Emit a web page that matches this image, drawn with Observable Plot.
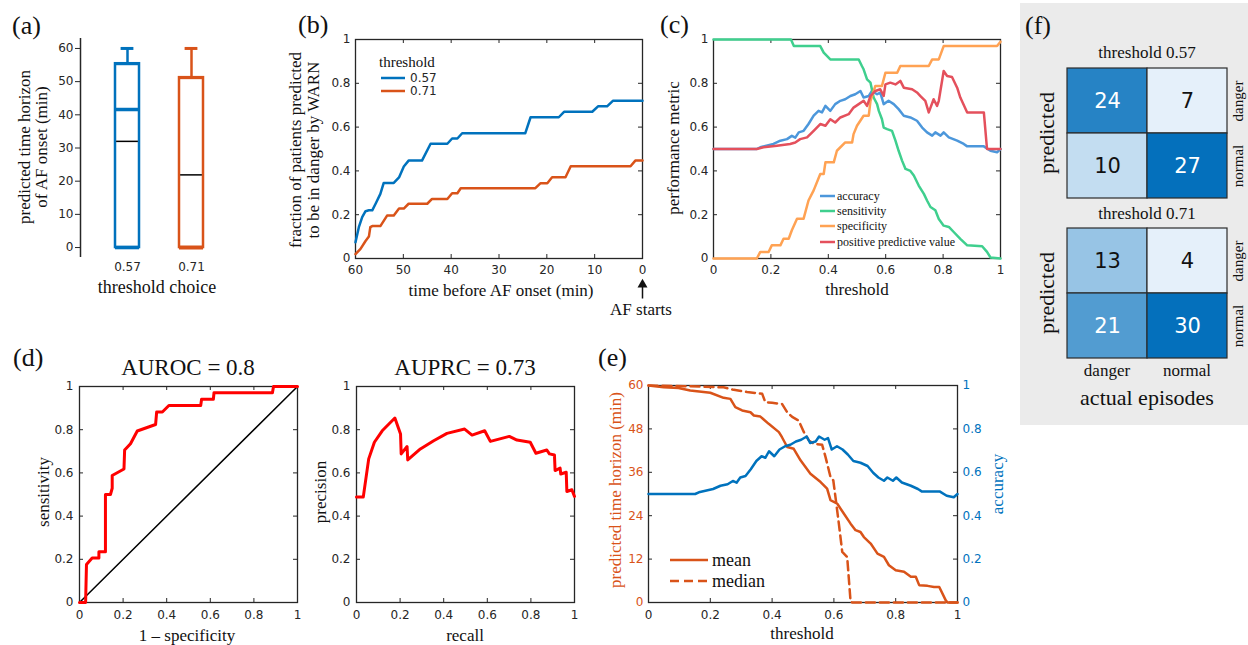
<!DOCTYPE html>
<html><head><meta charset="utf-8">
<script src="https://cdn.jsdelivr.net/npm/d3@7"></script>
<script src="https://cdn.jsdelivr.net/npm/@observablehq/plot@0.6"></script>
<style>
body{margin:0;background:#fff;}
#fig{position:relative;width:1248px;height:645px;overflow:hidden;background:#fff;}
.lbl{position:absolute;white-space:nowrap;line-height:1;color:#111;text-align:center;}
</style></head><body><div id="fig"></div>
<script>
// ---------------- DATA ----------------
// (a) box plot of predicted time horizon (min)
const thresholdChoices = ["0.57", "0.71"];
const boxQ1 = [0, 0];
const boxQ3 = [55.4, 51.2];
const boxMedian = [41.6, 0];
const boxMean = [32, 21.9];
const whiskerHi = [60, 60];
const whiskerLo = [0, 0];

// (b) fraction predicted in danger vs minutes before AF onset [min, fraction]
const frac057 = [[60,0.074],[59.3,0.143],[58.6,0.189],[57.9,0.216],[57.2,0.22],[56.5,0.22],[55.8,0.25],[54.8,0.295],[54.1,0.345],[52,0.345],[50.9,0.37],[49.9,0.42],[48.9,0.447],[46.1,0.447],[44.3,0.524],[40.8,0.524],[39.8,0.548],[38.7,0.548],[37.7,0.572],[24.5,0.572],[23.4,0.645],[17.5,0.645],[16.4,0.67],[10.5,0.67],[9.3,0.695],[7.4,0.695],[6.2,0.72],[0,0.72]];
const frac071 = [[60,0.02],[58.95,0.044],[57.9,0.08],[57.2,0.1],[56.9,0.143],[56.5,0.148],[54.8,0.148],[53.4,0.196],[52,0.196],[50.9,0.228],[49.9,0.228],[48.9,0.25],[45,0.25],[44,0.272],[40.8,0.272],[39.8,0.298],[38.7,0.298],[38,0.321],[22.4,0.321],[21.3,0.344],[19.9,0.344],[18.9,0.371],[16.1,0.371],[15,0.421],[2.5,0.421],[1.5,0.447],[0,0.447]];

// (c) performance metrics vs threshold [threshold, value]
const accuracyCurve = [[0,0.5],[0.151,0.5],[0.163,0.508],[0.209,0.523],[0.233,0.538],[0.256,0.545],[0.273,0.56],[0.285,0.552],[0.297,0.576],[0.314,0.583],[0.331,0.614],[0.349,0.652],[0.366,0.674],[0.378,0.667],[0.39,0.697],[0.407,0.674],[0.424,0.705],[0.442,0.72],[0.459,0.727],[0.477,0.742],[0.494,0.75],[0.512,0.765],[0.523,0.735],[0.541,0.742],[0.552,0.765],[0.57,0.75],[0.581,0.758],[0.593,0.705],[0.61,0.72],[0.628,0.705],[0.645,0.682],[0.663,0.652],[0.686,0.644],[0.709,0.629],[0.727,0.598],[0.744,0.576],[0.762,0.561],[0.773,0.576],[0.791,0.561],[0.802,0.576],[0.82,0.553],[0.849,0.538],[0.872,0.523],[0.884,0.512],[0.942,0.512],[0.965,0.492],[0.988,0.485],[1,0.5]];
const sensitivityCurve = [[0,1],[0.27,1],[0.28,0.97],[0.372,0.97],[0.384,0.94],[0.407,0.909],[0.506,0.909],[0.517,0.879],[0.523,0.864],[0.535,0.818],[0.547,0.803],[0.558,0.735],[0.57,0.705],[0.576,0.674],[0.587,0.636],[0.593,0.598],[0.605,0.591],[0.622,0.583],[0.634,0.538],[0.645,0.492],[0.657,0.447],[0.669,0.409],[0.686,0.4],[0.698,0.379],[0.715,0.333],[0.733,0.295],[0.744,0.265],[0.756,0.235],[0.773,0.22],[0.785,0.18],[0.802,0.15],[0.82,0.144],[0.837,0.121],[0.86,0.09],[0.884,0.06],[0.936,0.056],[0.953,0.03],[0.965,0.005],[1,0]];
const specificityCurve = [[0,0],[0.151,0],[0.163,0.03],[0.192,0.03],[0.203,0.06],[0.233,0.06],[0.244,0.09],[0.262,0.09],[0.273,0.129],[0.291,0.182],[0.314,0.182],[0.331,0.265],[0.349,0.311],[0.372,0.386],[0.384,0.386],[0.39,0.439],[0.419,0.439],[0.43,0.492],[0.459,0.53],[0.483,0.53],[0.488,0.568],[0.5,0.606],[0.523,0.652],[0.541,0.652],[0.547,0.72],[0.564,0.788],[0.587,0.788],[0.599,0.848],[0.64,0.848],[0.651,0.879],[0.75,0.879],[0.762,0.909],[0.785,0.909],[0.802,0.97],[0.988,0.97],[1,0.99]];
const ppvCurve = [[0,0.5],[0.151,0.5],[0.174,0.508],[0.221,0.515],[0.267,0.523],[0.285,0.53],[0.302,0.545],[0.326,0.553],[0.349,0.583],[0.372,0.614],[0.39,0.606],[0.407,0.636],[0.424,0.621],[0.442,0.644],[0.471,0.659],[0.488,0.689],[0.506,0.705],[0.523,0.72],[0.535,0.697],[0.547,0.742],[0.564,0.765],[0.581,0.773],[0.593,0.742],[0.599,0.795],[0.616,0.803],[0.634,0.795],[0.651,0.811],[0.663,0.78],[0.692,0.773],[0.709,0.758],[0.721,0.742],[0.738,0.72],[0.75,0.667],[0.767,0.727],[0.779,0.697],[0.785,0.72],[0.802,0.856],[0.814,0.833],[0.831,0.829],[0.849,0.78],[0.86,0.735],[0.884,0.667],[0.942,0.667],[0.953,0.5],[1,0.5]];
const metricNames = ["accuracy", "sensitivity", "specificity", "positive predictive value"];

// (d) ROC [1-specificity, sensitivity] and PR [recall, precision]
const rocCurve = [[0,0],[0.028,0],[0.032,0.176],[0.058,0.206],[0.089,0.206],[0.089,0.235],[0.119,0.235],[0.119,0.5],[0.142,0.5],[0.15,0.529],[0.15,0.588],[0.204,0.618],[0.207,0.706],[0.234,0.735],[0.265,0.794],[0.349,0.824],[0.354,0.882],[0.38,0.882],[0.41,0.912],[0.556,0.912],[0.56,0.941],[0.614,0.941],[0.617,0.971],[0.885,0.971],[0.89,1],[1,1]];
const chanceLine = [[0,0],[1,1]];
const prCurve = [[0,0.488],[0.031,0.488],[0.056,0.665],[0.082,0.742],[0.118,0.795],[0.176,0.854],[0.202,0.78],[0.205,0.688],[0.232,0.722],[0.235,0.66],[0.293,0.711],[0.354,0.749],[0.415,0.783],[0.496,0.803],[0.53,0.775],[0.588,0.795],[0.614,0.746],[0.701,0.769],[0.736,0.752],[0.797,0.742],[0.823,0.691],[0.873,0.706],[0.885,0.688],[0.908,0.683],[0.911,0.611],[0.934,0.622],[0.937,0.595],[0.962,0.603],[0.965,0.514],[0.988,0.522],[1,0.491]];
const auroc = 0.8, auprc = 0.73;

// (e) predicted time horizon (min) vs threshold [threshold, minutes]
const meanHorizon = [[0,60],[0.049,59.5],[0.097,59.3],[0.135,58.6],[0.2,58],[0.243,56.6],[0.265,56.3],[0.281,54],[0.303,53.1],[0.33,52.6],[0.341,51.7],[0.362,51.4],[0.389,49.4],[0.422,47.1],[0.432,45.7],[0.449,43],[0.47,42.5],[0.492,39.3],[0.524,35.6],[0.557,33.3],[0.578,31.5],[0.589,28.3],[0.611,27.3],[0.632,24.6],[0.654,21.8],[0.67,20],[0.686,19.5],[0.697,18.1],[0.719,16.3],[0.741,13.5],[0.762,12.6],[0.778,10.3],[0.8,8.9],[0.827,8.5],[0.849,7.1],[0.865,7.1],[0.876,4.8],[0.903,4.6],[0.924,4.3],[0.941,4.3],[0.962,0.6],[0.968,0],[1,0]];
const medianHorizon = [[0,60],[0.135,59.8],[0.243,59.5],[0.276,58.8],[0.319,58.2],[0.368,57.7],[0.378,55.4],[0.4,55.2],[0.432,54.9],[0.449,52.6],[0.465,51.3],[0.486,50.3],[0.503,47.1],[0.519,44.8],[0.535,43.9],[0.562,43.6],[0.573,40.2],[0.589,34.7],[0.598,33.8],[0.605,29.2],[0.616,21.8],[0.627,14],[0.643,12.6],[0.654,0.2],[0.66,0],[1,0]];

// (f) confusion matrices: rows = predicted, columns = actual
const cmLabels = ["danger", "normal"];
const cm057 = [[24, 7], [10, 27]];
const cm071 = [[13, 4], [21, 30]];

// ticks
const unitTicks = [0, 0.2, 0.4, 0.6, 0.8, 1];
const minuteTicksA = [0, 10, 20, 30, 40, 50, 60];
const minuteTicksB = [60, 50, 40, 30, 20, 10, 0];
const horizonTicks = [0, 12, 24, 36, 48, 60];

// ---------------- RENDER ----------------
const INK = "#262626";
const SERIF = "'Liberation Serif','Times New Roman',serif";
const SANS = "'DejaVu Sans',Verdana,sans-serif";
const BLUE = "#0072BD", ORANGE = "#D95319";
const C_ACC = "#4C97DB", C_SEN = "#3FCF8E", C_SPE = "#FFA253", C_PPV = "#E4505C";
const fig = document.getElementById("fig");
const fmt = d => String(d);

function place(el, left, top) {
  el.style.position = "absolute"; el.style.left = left + "px"; el.style.top = top + "px";
  fig.appendChild(el);
}
function label(str, x, y, {size = 17, rotate = 0, color = "#111", family = SERIF, align = "center", lh = null} = {}) {
  const d = document.createElement("div");
  d.className = "lbl";
  d.innerHTML = str;
  d.style.fontSize = size + "px";
  d.style.fontFamily = family;
  d.style.color = color;
  if (lh) d.style.lineHeight = lh + "px";
  d.style.left = x + "px"; d.style.top = y + "px";
  d.style.transform = `translate(${align === "left" ? "0" : "-50%"},-50%)` + (rotate ? ` rotate(${rotate}deg)` : "");
  fig.appendChild(d);
}
function swatch(x, y, w, color, dash = null, sw = 2.5) {
  const ns = "http://www.w3.org/2000/svg";
  const s = document.createElementNS(ns, "svg");
  s.setAttribute("width", w); s.setAttribute("height", 8);
  s.style.position = "absolute"; s.style.left = x + "px"; s.style.top = (y - 4) + "px";
  const l = document.createElementNS(ns, "line");
  l.setAttribute("x1", 0); l.setAttribute("x2", w); l.setAttribute("y1", 4); l.setAttribute("y2", 4);
  l.setAttribute("stroke", color); l.setAttribute("stroke-width", sw);
  if (dash) l.setAttribute("stroke-dasharray", dash);
  s.appendChild(l); fig.appendChild(s);
}
function mk(opts) {
  return Plot.plot({
    style: {fontFamily: SANS, fontSize: "12px", color: INK, background: "transparent", overflow: "visible"},
    ...opts
  });
}
// MATLAB-style box with inward ticks on all four sides
function matlabBox(xd, yd, pw, ph, xt, yt, len = 4) {
  const lx = len * (xd[1] - xd[0]) / pw, ly = len * (yd[1] - yd[0]) / ph;
  const st = {stroke: INK, strokeWidth: 1};
  return [
    Plot.ruleX(xt, {x: d => d, y1: yd[0], y2: yd[0] + ly, ...st}),
    Plot.ruleX(xt, {x: d => d, y1: yd[1], y2: yd[1] - ly, ...st}),
    Plot.ruleY(yt, {y: d => d, x1: xd[0], x2: xd[0] + lx, ...st}),
    Plot.ruleY(yt, {y: d => d, x1: xd[1], x2: xd[1] - lx, ...st}),
    Plot.frame({stroke: INK, strokeWidth: 1.3})
  ];
}
const line = (data, stroke, extra = {}) => Plot.line(data, {x: d => d[0], y: d => d[1], stroke, strokeWidth: 2.5, ...extra});

// ----- (a) -----
{
  const colors = [BLUE, ORANGE];
  const xd = [1 - 47 / 64, 1 - 47 / 64 + 150 / 64];
  const rows = thresholdChoices.map((c, i) => ({i: i + 1, q1: boxQ1[i], q3: boxQ3[i], med: boxMedian[i], mean: boxMean[i], hi: whiskerHi[i], lo: whiskerLo[i]}));
  const marks = [
    Plot.ruleX([xd[0]], {x: d => d, y1: -3, y2: 63, stroke: INK, strokeWidth: 1.5}),
    Plot.axisY({ticks: minuteTicksA, tickSize: 5, tickPadding: 2, label: null, tickFormat: fmt}),
    Plot.axisX({ticks: [1, 2], tickFormat: i => thresholdChoices[i - 1], tickSize: 0, tickPadding: 5, label: null})
  ];
  rows.forEach((r, k) => {
    const c = colors[k];
    marks.push(
      Plot.ruleX([r], {x: "i", y1: "q3", y2: "hi", stroke: c, strokeWidth: 2.5}),
      Plot.ruleY([r], {y: "hi", x1: d => d.i - 0.1, x2: d => d.i + 0.1, stroke: c, strokeWidth: 3}),
      Plot.rect([r], {x1: d => d.i - 0.1875, x2: d => d.i + 0.1875, y1: "q1", y2: "q3", fill: "none", stroke: c, strokeWidth: 2.5}),
      Plot.ruleY([r], {y: "q3", x1: d => d.i - 0.1875, x2: d => d.i + 0.1875, stroke: c, strokeWidth: 3}),
      Plot.ruleY([r], {y: "lo", x1: d => d.i - 0.1875, x2: d => d.i + 0.1875, stroke: c, strokeWidth: 3.5}),
      Plot.ruleY([r], {y: "med", x1: d => d.i - 0.1875, x2: d => d.i + 0.1875, stroke: c, strokeWidth: 3.5}),
      Plot.ruleY([r], {y: "mean", x1: d => d.i - 0.17, x2: d => d.i + 0.17, stroke: "#000", strokeWidth: 1.5})
    );
  });
  const p = mk({width: 240, height: 310, marginLeft: 80, marginRight: 10, marginTop: 38, marginBottom: 53,
    x: {domain: xd}, y: {domain: [-3, 63]}, marks});
  place(p, 0, 0);
  label("(a)", 12, 26, {size: 26, align: "left"});
  label("predicted time horizon<br>of AF onset (min)", 33, 147, {rotate: -90, lh: 16.5});
  label("threshold choice", 157, 287, {size: 18});
}

// ----- (b) -----
{
  const p = mk({width: 420, height: 320, marginLeft: 115, marginRight: 18, marginTop: 39, marginBottom: 62,
    x: {domain: [60, 0]}, y: {domain: [0, 1]},
    marks: [
      ...matlabBox([60, 0], [0, 1], 287, 219, minuteTicksB, unitTicks),
      Plot.axisX({ticks: minuteTicksB, tickSize: 0, tickPadding: 7, tickFormat: fmt, label: null}),
      Plot.axisY({ticks: unitTicks, tickSize: 0, tickPadding: 5, tickFormat: fmt, label: null}),
      line(frac057, BLUE),
      line(frac071, ORANGE),
      Plot.ruleX([0], {x: d => d, y1: -0.185, y2: -0.125, stroke: "#111", strokeWidth: 1.5}),
      Plot.dot([0], {x: d => d, y: -0.119, symbol: "triangle", r: 3.7, fill: "#111", stroke: "none"})
    ]});
  place(p, 240, 0);
  label("(b)", 298, 25, {size: 26, align: "left"});
  label("fraction of patients predicted<br>to be in danger by WARN", 304, 150, {rotate: -90, lh: 17.5});
  label("time before AF onset (min)", 501, 290);
  label("AF starts", 641, 309);
  label("threshold", 379, 62, {size: 15, align: "left"});
  swatch(381, 77.7, 24, BLUE);
  swatch(381, 91, 24, ORANGE);
  label(thresholdChoices[0], 410, 77.7, {size: 12, family: SANS, align: "left", color: INK});
  label(thresholdChoices[1], 410, 91, {size: 12, family: SANS, align: "left", color: INK});
}

// ----- (c) -----
{
  const p = mk({width: 360, height: 320, marginLeft: 53, marginRight: 20, marginTop: 39, marginBottom: 62,
    x: {domain: [0, 1]}, y: {domain: [0, 1]},
    marks: [
      ...matlabBox([0, 1], [0, 1], 287, 219, unitTicks, unitTicks),
      Plot.axisX({ticks: unitTicks, tickSize: 0, tickPadding: 7, tickFormat: fmt, label: null}),
      Plot.axisY({ticks: unitTicks, tickSize: 0, tickPadding: 5, tickFormat: fmt, label: null}),
      line(accuracyCurve, C_ACC),
      line(sensitivityCurve, C_SEN),
      line(specificityCurve, C_SPE),
      line(ppvCurve, C_PPV)
    ]});
  place(p, 660, 0);
  label("(c)", 660, 25, {size: 26, align: "left"});
  label("performance metric", 673, 148, {rotate: -90});
  label("threshold", 857, 289);
  const cols = [C_ACC, C_SEN, C_SPE, C_PPV], ys = [196, 210.5, 226, 241.5];
  metricNames.forEach((n, i) => {
    swatch(820, ys[i], 15, cols[i]);
    label(n, 837, ys[i], {size: 12, align: "left"});
  });
}

// ----- (d) ROC -----
{
  const p = mk({width: 300, height: 305, marginLeft: 79, marginRight: 3, marginTop: 46, marginBottom: 43,
    x: {domain: [0, 1]}, y: {domain: [0, 1]},
    marks: [
      ...matlabBox([0, 1], [0, 1], 218, 216, unitTicks, unitTicks),
      Plot.axisX({ticks: unitTicks, tickSize: 0, tickPadding: 8, tickFormat: fmt, label: null}),
      Plot.axisY({ticks: unitTicks, tickSize: 0, tickPadding: 6, tickFormat: fmt, label: null}),
      line(chanceLine, "#000", {strokeWidth: 1.5}),
      line(rocCurve, "#FF0000", {strokeWidth: 3})
    ]});
  place(p, 0, 340);
  label("(d)", 13, 358, {size: 26, align: "left"});
  label(`AUROC = ${auroc}`, 188, 367, {size: 23});
  label("sensitivity", 43, 492, {rotate: -90});
  label("1 – specificity", 187, 635);
}
// ----- (d) PR -----
{
  const p = mk({width: 290, height: 305, marginLeft: 56, marginRight: 16, marginTop: 46, marginBottom: 43,
    x: {domain: [0, 1]}, y: {domain: [0, 1]},
    marks: [
      ...matlabBox([0, 1], [0, 1], 218, 216, unitTicks, unitTicks),
      Plot.axisX({ticks: unitTicks, tickSize: 0, tickPadding: 8, tickFormat: fmt, label: null}),
      Plot.axisY({ticks: unitTicks, tickSize: 0, tickPadding: 6, tickFormat: fmt, label: null}),
      line(prCurve, "#FF0000", {strokeWidth: 3})
    ]});
  place(p, 300, 340);
  label(`AUPRC = ${auprc}`, 465, 367, {size: 23});
  label("precision", 320, 492, {rotate: -90});
  label("recall", 465, 635);
}

// ----- (e) -----
{
  const p = mk({width: 420, height: 305, marginLeft: 58, marginRight: 53, marginTop: 45, marginBottom: 43,
    x: {domain: [0, 1]}, y: {domain: [0, 60]},
    marks: [
      ...matlabBox([0, 1], [0, 60], 309, 217, unitTicks, horizonTicks),
      Plot.axisX({ticks: unitTicks, tickSize: 0, tickPadding: 8, tickFormat: fmt, label: null}),
      Plot.axisY({ticks: horizonTicks, tickSize: 0, tickPadding: 5, tickFormat: fmt, label: null, fill: ORANGE}),
      Plot.axisY({anchor: "right", ticks: horizonTicks, tickSize: 0, tickPadding: 5, tickFormat: d => String(+(d / 60).toFixed(1)), label: null, fill: BLUE}),
      line(meanHorizon, ORANGE),
      line(medianHorizon, ORANGE, {strokeDasharray: "9,5"}),
      Plot.line(accuracyCurve, {x: d => d[0], y: d => d[1] * 60, stroke: BLUE, strokeWidth: 2.5})
    ]});
  place(p, 590, 340);
  label("(e)", 598, 358, {size: 26, align: "left"});
  label("predicted time horizon (min)", 615, 490, {rotate: -90, color: ORANGE});
  label("accuracy", 997, 484, {rotate: -90, color: BLUE});
  label("threshold", 802, 633);
  swatch(670, 560, 38, ORANGE);
  swatch(670, 581, 38, ORANGE, "9,5");
  label("mean", 712, 560, {size: 18, align: "left"});
  label("median", 712, 581, {size: 18, align: "left"});
}

// ----- (f) -----
{
  const bg = document.createElement("div");
  bg.style.width = "228px"; bg.style.height = "422px"; bg.style.background = "#ebebeb";
  place(bg, 1020, 3);
  function cmPlot(mat) {
    const cells = [];
    cmLabels.forEach((r, i) => cmLabels.forEach((c, j) => cells.push({row: r, col: c, n: mat[i][j]})));
    const vals = cells.map(d => d.n);
    const mid = (d3.min(vals) + d3.max(vals)) / 2;
    const tx = {x: "col", y: "row", text: d => String(d.n), fontSize: 21, fontFamily: SANS};
    return mk({width: 162, height: 132, margin: 1,
      x: {domain: cmLabels, axis: null, padding: 0},
      y: {domain: cmLabels, axis: null, padding: 0},
      color: {type: "linear", range: ["#e5f0fa", "#0470bc"]},
      marks: [
        Plot.cell(cells, {x: "col", y: "row", fill: "n", stroke: "#2b2b2b", strokeWidth: 1.2}),
        Plot.text(cells, {...tx, filter: d => d.n > mid, fill: "white"}),
        Plot.text(cells, {...tx, filter: d => d.n <= mid, fill: "#111"})
      ]});
  }
  place(cmPlot(cm057), 1066, 67);
  place(cmPlot(cm071), 1066, 227);
  label("(f)", 1025, 26, {size: 26, align: "left"});
  label("threshold 0.57", 1147, 52);
  label("threshold 0.71", 1147, 213);
  label("predicted", 1047, 133, {size: 22, rotate: -90});
  label("predicted", 1047, 293, {size: 22, rotate: -90});
  [[101, 0], [166, 1], [261, 0], [326, 1]].forEach(([y, k]) => label(cmLabels[k], 1238, y, {size: 15, rotate: -90}));
  label(cmLabels[0], 1107, 370);
  label(cmLabels[1], 1187, 370);
  label("actual episodes", 1147, 398, {size: 22});
}
</script></body></html>
